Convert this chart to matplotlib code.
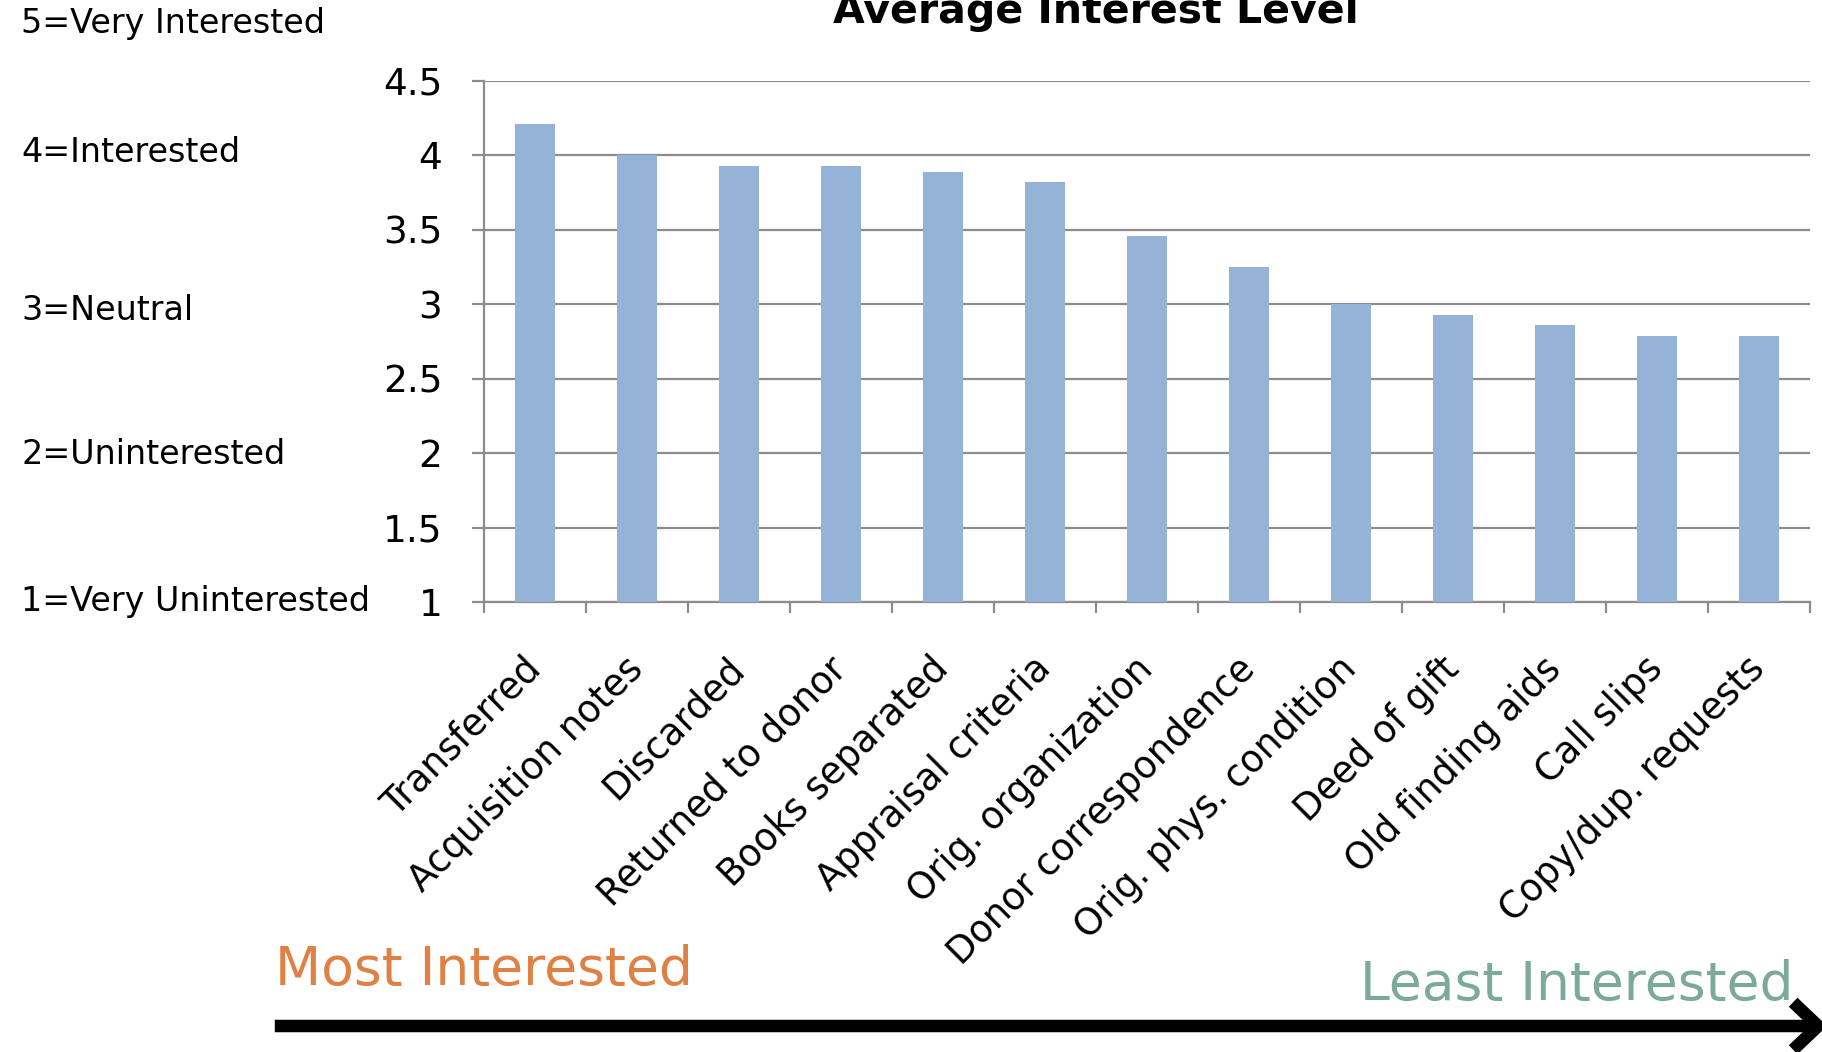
import numpy as np
import matplotlib
matplotlib.use("Agg")
from matplotlib import pyplot as plt
from matplotlib.patches import FancyArrowPatch

categories = ["Transferred", "Acquisition notes", "Discarded", "Returned to donor",
              "Books separated", "Appraisal criteria", "Orig. organization",
              "Donor correspondence", "Orig. phys. condition", "Deed of gift",
              "Old finding aids", "Call slips", "Copy/dup. requests"]
values = [4.21, 4.0, 3.93, 3.93, 3.89, 3.82, 3.46, 3.25, 3.0, 2.93, 2.86, 2.79, 2.79]
yticks = [1, 1.5, 2, 2.5, 3, 3.5, 4, 4.5]
ytick_labels = ["1", "1.5", "2", "2.5", "3", "3.5", "4", "4.5"]
scale_labels = ["5=Very Interested", "4=Interested", "3=Neutral",
                "2=Uninterested", "1=Very Uninterested"]

W, H = 1822, 1052
fig = plt.figure(figsize=(W / 100, H / 100), dpi=100)
ax = fig.add_axes([484 / W, 1 - 602 / H, (1810 - 484) / W, (602 - 81) / H])

grey = "#8C8C8C"
x = np.arange(len(categories))
ax.bar(x, values, width=0.4, color="#95B3D7", zorder=3)
ax.set_axisbelow(True)
ax.yaxis.grid(True, color=grey, lw=1.6)
ax.set_ylim(1, 4.5)
ax.set_xlim(-0.5, len(categories) - 0.5)

ax.set_yticks(yticks)
ax.set_yticklabels(ytick_labels, fontsize=27)
ax.tick_params(axis="y", direction="out", length=9, width=1.6, color=grey, pad=21)

ax.set_xticks(x)
ax.set_xticklabels(categories, fontsize=26.5, rotation=45, ha="right", va="center",
                   rotation_mode="anchor")
ax.tick_params(axis="x", length=0, pad=44)
ax.set_xticks(np.arange(len(categories) + 1) - 0.5, minor=True)
ax.tick_params(axis="x", which="minor", direction="out", length=8, width=1.6, color=grey)

for s in ["top", "right"]:
    ax.spines[s].set_visible(False)
for s in ["left", "bottom"]:
    ax.spines[s].set_color(grey)
    ax.spines[s].set_linewidth(1.6)

# title is cut at the top edge in the original slide too
fig.text(1096 / W, 1 - 23 / H, "Average Interest Level", ha="center", va="baseline",
         fontsize=29.5, fontweight="bold")

for lab, py in zip(scale_labels, [24, 152, 311, 455, 601]):
    fig.text(21 / W, 1 - py / H, lab, va="center", fontsize=24)

fig.text(275 / W, 1 - 970 / H, "Most Interested", va="center", fontsize=38.5, color="#DF8144")
fig.text(1793 / W, 1 - 985 / H, "Least Interested", va="center", ha="right",
         fontsize=38.5, color="#7BA99C")

arrow = FancyArrowPatch((272 / W, 1 - 1026 / H), (1830 / W, 1 - 1026 / H),
                        transform=fig.transFigure, arrowstyle="->,head_length=0.6,head_width=0.57",
                        mutation_scale=30, lw=9, color="black", capstyle="butt", joinstyle="miter")
fig.add_artist(arrow)

fig.savefig("out.png", dpi=100)
